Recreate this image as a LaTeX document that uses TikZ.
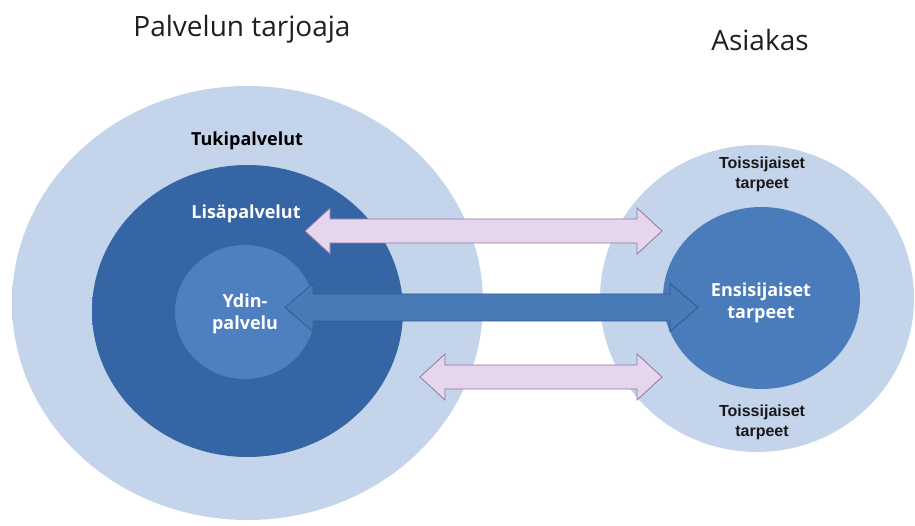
\documentclass[tikz,border=0pt]{standalone}
\usepackage{fontspec}
\setmainfont{Open Sans}
\newfontfamily\arialf{Liberation Sans}
\definecolor{lt1}{HTML}{C4D4EA}
\definecolor{lt2}{HTML}{CEDCF0}
\definecolor{dk1}{HTML}{3665A5}
\definecolor{dk2}{HTML}{3E71B1}
\definecolor{innerc}{HTML}{4E80C0}
\definecolor{rinner}{HTML}{4A7CBC}
\definecolor{pinkf}{HTML}{E6D5ED}
\definecolor{pinkd}{HTML}{8A7AA0}
\definecolor{bluef}{HTML}{4A7BB9}
\definecolor{blued}{HTML}{2D5A8E}
\pgfdeclareradialshading{lightdisc}{\pgfpoint{0bp}{0bp}}{color(0bp)=(lt1); color(30bp)=(lt1); color(50bp)=(lt2)}
\pgfdeclareradialshading{darkdisc}{\pgfpoint{0bp}{0bp}}{color(0bp)=(dk1); color(24bp)=(dk1); color(50bp)=(dk2)}
\newcommand\dblarrow[7]{% left x, right x, y, shaft half, head half, head len, style
  \draw[#7] (#1,#3) -- (#1+#6,#3-#5) -- (#1+#6,#3-#4) -- (#2-#6,#3-#4) -- (#2-#6,#3-#5)
    -- (#2,#3) -- (#2-#6,#3+#5) -- (#2-#6,#3+#4) -- (#1+#6,#3+#4) -- (#1+#6,#3+#5) -- cycle;}
\tikzset{
  head/.style={font=\fontsize{28}{32}\selectfont, text=black!88, inner sep=0pt, anchor=base},
  lbl/.style={font=\bfseries\fontsize{18}{22}\selectfont, align=center, inner sep=0pt},
  albl/.style={font=\arialf\bfseries\fontsize{16}{20}\selectfont, align=center, inner sep=0pt, text=black!90},
  pinkarrow/.style={fill=pinkf, draw=pinkd, line width=0.8pt, line join=miter},
  bluearrow/.style={fill=bluef, draw=blued, line width=0.8pt, line join=miter},
}
\begin{document}
\begin{tikzpicture}[x=1pt,y=-1pt]
\useasboundingbox (0,0) rectangle (915,526);
% big light circles
\shade[shading=lightdisc] (247.5,303) ellipse [x radius=235.5, y radius=217];
\shade[shading=lightdisc] (757,298.5) ellipse [x radius=157, y radius=153.5];
% dark circle
\shade[shading=darkdisc] (247.5,311) ellipse [x radius=155.5, y radius=146];
\fill[innerc] (245,312) ellipse [x radius=70, y radius=67];
\fill[rinner] (761.5,298) ellipse [x radius=98.5, y radius=91];
% arrows
\dblarrow{305}{662}{231}{12}{23}{25}{pinkarrow}
\dblarrow{285}{698}{307.5}{13.5}{24}{28}{bluearrow}
\dblarrow{420}{662}{377}{12}{23}{25}{pinkarrow}
% texts
\node[head] (pt) at (242,37) {Palvelun tarjoaja};
\node[head] (as) at (760,51) {Asiakas};
\node[lbl, text=black, anchor=base] (tuki) at (247,146) {Tukipalvelut};
\node[lbl, text=white, anchor=base] (lisa) at (246,219) {Lisäpalvelut};
\node[lbl, text=white] (ydin) at (245,313.5) {Ydin-\\palvelu};
\node[lbl, text=white] (ens) at (761,303) {Ensisijaiset\\tarpeet};
\node[albl] (t1) at (762,174) {Toissijaiset\\tarpeet};
\node[albl] (t2) at (762,422) {Toissijaiset\\tarpeet};
\end{tikzpicture}
\end{document}
